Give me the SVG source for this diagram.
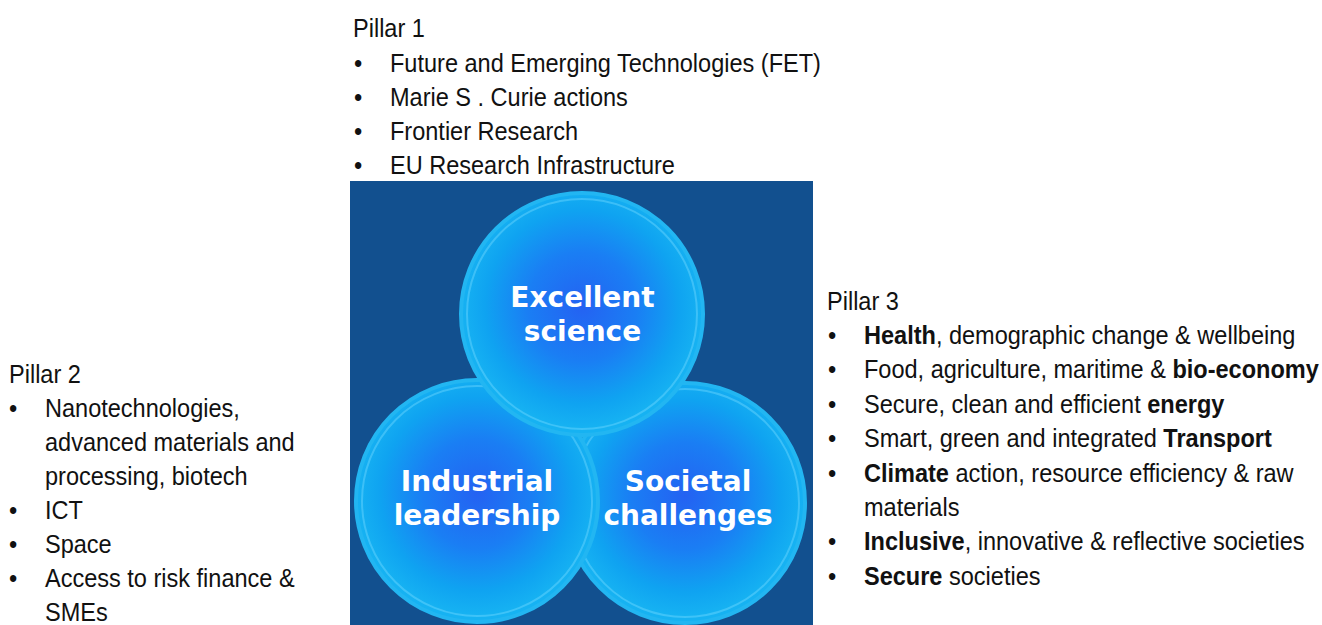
<svg xmlns="http://www.w3.org/2000/svg" width="1322" height="625" viewBox="0 0 1322 625">
<defs>
<radialGradient id="g" cx="50%" cy="47%" r="50%">
<stop offset="0%" stop-color="#2462f2"/>
<stop offset="45%" stop-color="#1a7ef4"/>
<stop offset="80%" stop-color="#0fa3f1"/>
<stop offset="100%" stop-color="#16b2f2"/>
</radialGradient>
</defs>
<style>
.t{font-family:"Liberation Sans",Arial,sans-serif;font-size:26px;fill:#111}
.b{font-weight:bold}
.c{font-family:"DejaVu Sans",Verdana,sans-serif;font-weight:bold;font-size:28px;fill:#fff;text-anchor:middle}
.disk{fill:url(#g);stroke:#22b6f2;stroke-width:4}
.rim{fill:none;stroke:#6fd6ff;stroke-opacity:0.45;stroke-width:2}
</style>
<rect x="350" y="181" width="463" height="444" fill="#12508f"/>

<g id="node-societal">
<circle class="disk" cx="685" cy="503" r="120"/>
<circle class="rim" cx="685" cy="503" r="114"/>
</g>
<g id="node-industrial">
<circle class="disk" cx="477" cy="501" r="121"/>
<circle class="rim" cx="477" cy="501" r="115"/>
</g>
<g id="node-excellent">
<circle class="disk" cx="582" cy="314" r="121"/>
<circle class="rim" cx="582" cy="314" r="115"/>
</g>
<g id="labels">
<text class="c" x="582.5" y="306.5">Excellent</text>
<text class="c" x="582.5" y="340.5">science</text>
<text class="c" x="477" y="491">Industrial</text>
<text class="c" x="477" y="525">leadership</text>
<text class="c" x="688" y="491">Societal</text>
<text class="c" x="688" y="525">challenges</text>
</g>

<g id="pillar1">
<text class="t" transform="translate(353,36.5) scale(0.905 1)">Pillar 1</text>
<text class="t" transform="translate(354,71.5) scale(0.905 1)">•</text>
<text class="t" transform="translate(390,71.5) scale(0.905 1)">Future and Emerging Technologies (FET)</text>
<text class="t" transform="translate(354,105.5) scale(0.905 1)">•</text>
<text class="t" transform="translate(390,105.5) scale(0.905 1)">Marie S . Curie actions</text>
<text class="t" transform="translate(354,139.5) scale(0.905 1)">•</text>
<text class="t" transform="translate(390,139.5) scale(0.905 1)">Frontier Research</text>
<text class="t" transform="translate(354,173.5) scale(0.905 1)">•</text>
<text class="t" transform="translate(390,173.5) scale(0.905 1)">EU Research Infrastructure</text>
</g>

<g id="pillar2">
<text class="t" transform="translate(9,383) scale(0.905 1)">Pillar 2</text>
<text class="t" transform="translate(9,417) scale(0.905 1)">•</text>
<text class="t" transform="translate(45,417) scale(0.905 1)">Nanotechnologies,</text>
<text class="t" transform="translate(45,451) scale(0.905 1)">advanced materials and</text>
<text class="t" transform="translate(45,485) scale(0.905 1)">processing, biotech</text>
<text class="t" transform="translate(9,519) scale(0.905 1)">•</text>
<text class="t" transform="translate(45,519) scale(0.905 1)">ICT</text>
<text class="t" transform="translate(9,553) scale(0.905 1)">•</text>
<text class="t" transform="translate(45,553) scale(0.905 1)">Space</text>
<text class="t" transform="translate(9,587) scale(0.905 1)">•</text>
<text class="t" transform="translate(45,587) scale(0.905 1)">Access to risk finance &amp;</text>
<text class="t" transform="translate(45,620.5) scale(0.905 1)">SMEs</text>
</g>

<g id="pillar3">
<text class="t" transform="translate(827,309.5) scale(0.905 1)">Pillar 3</text>
<text class="t" transform="translate(828,344) scale(0.905 1)">•</text>
<text class="t" transform="translate(864,344) scale(0.905 1)"><tspan class="b">Health</tspan>, demographic change &amp; wellbeing</text>
<text class="t" transform="translate(828,378.4) scale(0.905 1)">•</text>
<text class="t" transform="translate(864,378.4) scale(0.905 1)">Food, agriculture, maritime &amp; <tspan class="b">bio-economy</tspan></text>
<text class="t" transform="translate(828,412.8) scale(0.905 1)">•</text>
<text class="t" transform="translate(864,412.8) scale(0.905 1)">Secure, clean and efficient <tspan class="b">energy</tspan></text>
<text class="t" transform="translate(828,447.2) scale(0.905 1)">•</text>
<text class="t" transform="translate(864,447.2) scale(0.905 1)">Smart, green and integrated <tspan class="b">Transport</tspan></text>
<text class="t" transform="translate(828,481.6) scale(0.905 1)">•</text>
<text class="t" transform="translate(864,481.6) scale(0.905 1)"><tspan class="b">Climate</tspan> action, resource efficiency &amp; raw</text>
<text class="t" transform="translate(864,516) scale(0.905 1)">materials</text>
<text class="t" transform="translate(828,550.4) scale(0.905 1)">•</text>
<text class="t" transform="translate(864,550.4) scale(0.905 1)"><tspan class="b">Inclusive</tspan>, innovative &amp; reflective societies</text>
<text class="t" transform="translate(828,584.8) scale(0.905 1)">•</text>
<text class="t" transform="translate(864,584.8) scale(0.905 1)"><tspan class="b">Secure</tspan> societies</text>
</g>
</svg>
